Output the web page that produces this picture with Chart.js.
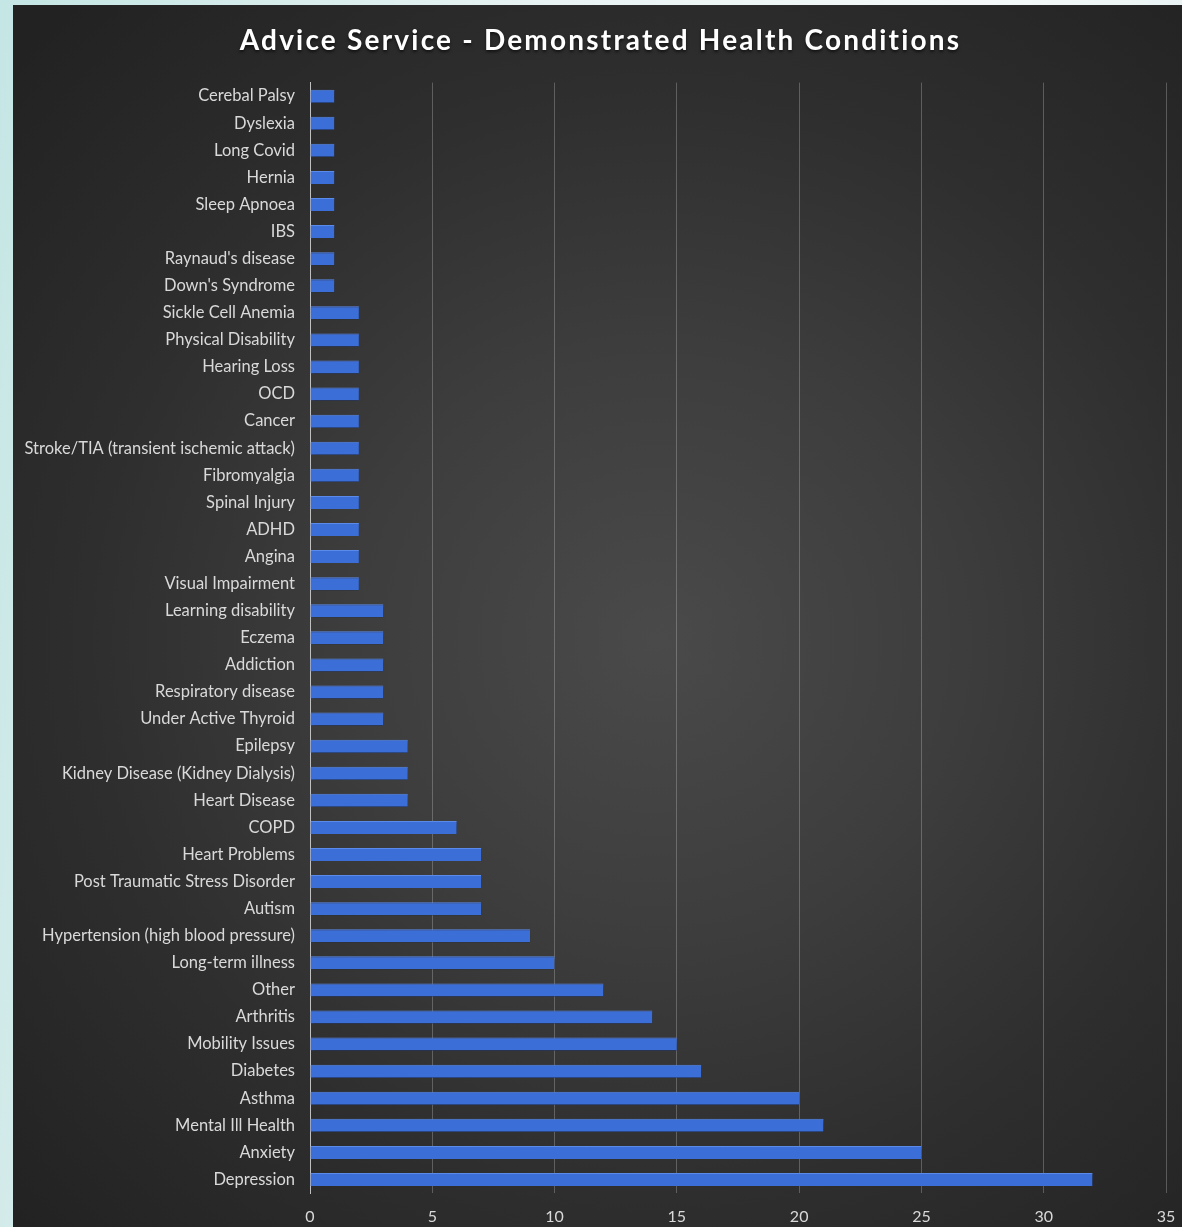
<!DOCTYPE html>
<html lang="en">
<head>
    <meta charset="UTF-8">
    <title>Advice Service - Demonstrated Health Conditions</title>
    <script src="https://cdn.jsdelivr.net/npm/chart.js@4.4.0/dist/chart.umd.min.js"></script>
    <style>
        * { margin: 0; padding: 0; box-sizing: border-box; }

        body {
            width: 1182px;
            height: 1227px;
            overflow: hidden;
            background: linear-gradient(100deg, #c4e6e4 0%, #e9f3f3 40%, #f4f8f8 70%, #dfeeee 100%);
        }

        .card {
            position: absolute;
            left: 13px;
            top: 5px;
            width: 1169px;
            height: 1222px;
            background: radial-gradient(ellipse 75% 70% at 55% 52%, #4a4a4a 0%, #3d3d3d 35%, #2e2e2e 65%, #222222 100%);
        }
    </style>
</head>
<body>
    <div class="card">
        <canvas id="conditionsChart"></canvas>
    </div>

    <script>
        // Data
        const conditions = [
            'Cerebal Palsy', 'Dyslexia', 'Long Covid', 'Hernia', 'Sleep Apnoea', 'IBS',
            "Raynaud's disease", "Down's Syndrome", 'Sickle Cell Anemia', 'Physical Disability',
            'Hearing Loss', 'OCD', 'Cancer', 'Stroke/TIA (transient ischemic attack)',
            'Fibromyalgia', 'Spinal Injury', 'ADHD', 'Angina', 'Visual Impairment',
            'Learning disability', 'Eczema', 'Addiction', 'Respiratory disease',
            'Under Active Thyroid', 'Epilepsy', 'Kidney Disease (Kidney Dialysis)',
            'Heart Disease', 'COPD', 'Heart Problems', 'Post Traumatic Stress Disorder',
            'Autism', 'Hypertension (high blood pressure)', 'Long-term illness', 'Other',
            'Arthritis', 'Mobility Issues', 'Diabetes', 'Asthma', 'Mental Ill Health',
            'Anxiety', 'Depression'
        ];
        const counts = [
            1, 1, 1, 1, 1, 1,
            1, 1, 2, 2,
            2, 2, 2, 2,
            2, 2, 2, 2, 2,
            3, 3, 3, 3,
            3, 4, 4,
            4, 6, 7, 7,
            7, 9, 10, 12,
            14, 15, 16, 20, 21,
            25, 32
        ];
        const axisMin = 0;
        const axisMax = 35;
        const axisStep = 5;

        // Drop shadow under the bars and letter spacing for the title
        const styling = {
            id: 'styling',
            afterLayout(chart) {
                const tb = chart.titleBlock;
                if (tb && !tb._spaced) {
                    const orig = tb.draw.bind(tb);
                    tb.draw = function () {
                        const ctx = this.ctx;
                        ctx.save();
                        ctx.translate(11, 0);
                        ctx.letterSpacing = '2.2px';
                        ctx.shadowColor = 'rgba(0, 0, 0, 0.6)';
                        ctx.shadowOffsetY = 2;
                        ctx.shadowBlur = 3;
                        orig();
                        ctx.restore();
                    };
                    tb._spaced = true;
                }
            },
            beforeDatasetsDraw(chart) {
                const ctx = chart.ctx;
                ctx.save();
                ctx.shadowColor = 'rgba(0, 0, 0, 0.7)';
                ctx.shadowOffsetX = 1;
                ctx.shadowOffsetY = 3;
                ctx.shadowBlur = 3;
            },
            afterDatasetsDraw(chart) {
                chart.ctx.restore();
            }
        };

        const ctx = document.getElementById('conditionsChart').getContext('2d');

        new Chart(ctx, {
            type: 'bar',
            data: {
                labels: conditions,
                datasets: [{
                    label: 'Conditions',
                    data: counts,
                    backgroundColor: '#3c6ed8',
                    borderColor: '#5a8aea',
                    borderWidth: { top: 1, bottom: 0, left: 0, right: 0 },
                    barPercentage: 0.48,
                    categoryPercentage: 1.0
                }]
            },
            plugins: [styling],
            options: {
                indexAxis: 'y',
                responsive: true,
                maintainAspectRatio: false,
                animation: false,
                layout: {
                    padding: { top: 0, right: 16, bottom: 0, left: 0 }
                },
                scales: {
                    x: {
                        min: axisMin,
                        max: axisMax,
                        afterFit(scale) {
                            scale.height = 34;
                            scale.paddingRight = 0;
                            scale.paddingLeft = 0;
                        },
                        border: { display: false },
                        grid: {
                            color: 'rgba(210, 210, 210, 0.3)',
                            lineWidth: 1,
                            drawTicks: false
                        },
                        ticks: {
                            stepSize: axisStep,
                            color: '#d9d9d9',
                            padding: 14,
                            font: { family: 'Lato', size: 16 }
                        }
                    },
                    y: {
                        afterFit(scale) { scale.width = 297; },
                        border: { display: true, color: '#bfbfbf', width: 1 },
                        grid: { display: false, drawTicks: false },
                        ticks: {
                            autoSkip: false,
                            color: '#d9d9d9',
                            padding: 15,
                            font: { family: 'Lato', size: 16.5 }
                        }
                    }
                },
                plugins: {
                    legend: { display: false },
                    tooltip: { enabled: false },
                    title: {
                        display: true,
                        text: 'Advice Service - Demonstrated Health Conditions',
                        color: '#ffffff',
                        padding: { top: 19, bottom: 25 },
                        font: { family: 'Lato', size: 28, weight: 'bold', lineHeight: 1.2 }
                    }
                }
            }
        });
    </script>
</body>
</html>
